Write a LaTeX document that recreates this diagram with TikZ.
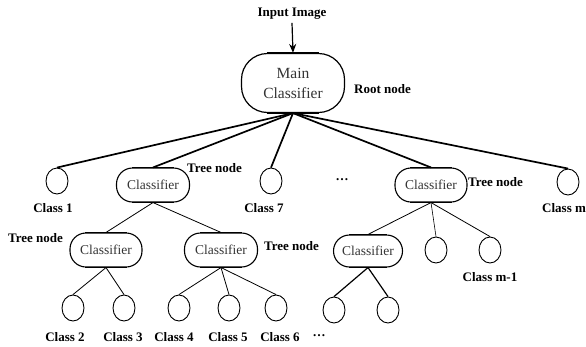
\documentclass[tikz,border=0pt]{standalone}
\usepackage{fontspec}
\setmainfont{Liberation Serif}
\usetikzlibrary{shapes.geometric,arrows.meta}
\begin{document}
\begin{tikzpicture}[x=1pt,y=-1pt,
  lbl/.style={font=\fontsize{13}{15}\selectfont\bfseries, inner sep=0pt},
  clf/.style={draw, line width=1.1pt, rounded corners=16pt, minimum width=72pt, minimum height=34pt, inner sep=0pt,
     text=black!80, font=\fontsize{13.5}{15}\selectfont},
  leaf/.style={draw, ellipse, line width=0.9pt, minimum width=22pt, minimum height=26pt, inner sep=0pt},
  thk/.style={line width=1.7pt},
  thn/.style={line width=0.8pt},
  mid/.style={line width=1.2pt},
  rim/.style={line width=1.8pt}]
\useasboundingbox (0,0) rectangle (586,346);
% root
\node[lbl] (inp) at (292,14) {Input Image};
\node[draw, line width=1.2pt, rounded corners=26pt, minimum width=103pt, minimum height=59pt, inner sep=0pt,
  text=black!80, align=center, font=\fontsize{15.5}{20}\selectfont] (main) at (293,83) {Main\\Classifier};
\node[lbl, anchor=west] (rootl) at (354,89) {Root node};
\draw[line width=1.2pt, -{Stealth[length=9pt,width=7pt]}] (inp.south) ++(0,3) coordinate (arrs) -- (main.north);
\draw[rim] ([xshift=26pt]main.north west) -- ([xshift=-26pt]main.north east);
\draw[rim] ([xshift=26pt]main.south west) -- ([xshift=-26pt]main.south east);
% level 1
\node[leaf] (c1) at (57,181) {};
\node[clf, minimum width=73pt] (t1) at (153,185) {Classifier};
\node[leaf] (c7) at (271,181) {};
\node[lbl] (dots1) at (342,180) {\dots};
\node[clf] (t2) at (431,185) {Classifier};
\node[leaf] (cm) at (568,182) {};
\node[lbl] (lc1) at (53,208) {Class 1};
\node[lbl, anchor=west] (lt1) at (187,168) {Tree node};
\node[lbl] (lc7) at (264,208) {Class 7};
\node[lbl, anchor=west] (lt2) at (468,182) {Tree node};
\node[lbl, anchor=west] (lcm) at (542,208) {Class m};
\draw[thk] (main.south) -- (c1.north);
\draw[thk] (main.south) -- (t1.north);
\draw[thk] (main.south) -- (c7.north);
\draw[thk] (main.south) -- (t2.north);
\draw[thk] (main.south) -- (cm.north);
% level 2
\node[clf] (t11) at (106,250) {Classifier};
\node[clf, minimum width=73pt] (t12) at (221,250) {Classifier};
\node[clf, minimum width=69pt, minimum height=32pt] (t21) at (368,251) {Classifier};
\node[leaf] (d1) at (436,250) {};
\node[leaf] (d2) at (490,250) {};
\node[lbl, anchor=west] (lt11) at (8,238) {Tree node};
\node[lbl, anchor=west] (lt12) at (264,246) {Tree node};
\node[lbl] (lcm1) at (490,277) {Class m-1};
\foreach \b in {t1,t2,t11,t12,t21}{
  \draw[rim] ([xshift=16pt]\b.north west) -- ([xshift=-16pt]\b.north east);
  \draw[rim] ([xshift=16pt]\b.south west) -- ([xshift=-16pt]\b.south east);
}
\draw[thn] (t1.south) -- (t11.north);
\draw[thn] (t1.south) -- (t12.north);
\draw[thn] (t2.south) -- (t21.north);
\draw[line width=0.6pt] (t2.south) -- (d1.north);
\draw[thn] (t2.south) -- (d2.north);
% level 3
\node[leaf] (e2) at (73,308) {};
\node[leaf] (e3) at (124,308) {};
\node[leaf] (e4) at (179,308) {};
\node[leaf] (e5) at (229,308) {};
\node[leaf] (e6) at (276,308) {};
\node[leaf] (f1) at (334,310) {};
\node[leaf] (f2) at (388,310) {};
\node[lbl] (l2) at (65,337) {Class 2};
\node[lbl] (l3) at (123,337) {Class 3};
\node[lbl] (l4) at (174,337) {Class 4};
\node[lbl] (l5) at (228,337) {Class 5};
\node[lbl] (l6) at (280,337) {Class 6};
\node[lbl] (dots2) at (319,336) {\dots};
\draw[thn] (t11.south) -- (e2.north);
\draw[thn] (t11.south) -- (e3.north);
\draw[thn] (t12.south) -- (e4.north);
\draw[thn] (t12.south) -- (e5.north);
\draw[thn] (t12.south) -- (e6.north);
\draw[mid] (t21.south) -- (f1.north);
\draw[mid] (t21.south) -- (f2.north);
\end{tikzpicture}
\end{document}
